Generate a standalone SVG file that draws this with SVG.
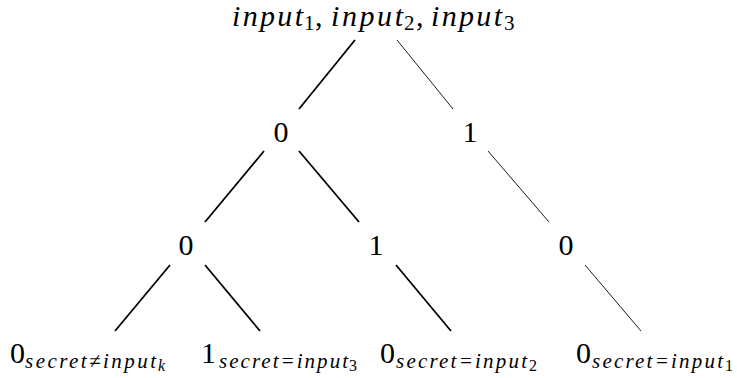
<svg xmlns="http://www.w3.org/2000/svg" width="737" height="378" viewBox="0 0 737 378">
<style>
.t{font-family:"Liberation Serif","Times New Roman",serif;fill:#000}
.m{font-size:30px}
.s{font-size:21px}
.ss{font-size:16px}
.it{font-style:italic}
.thick{stroke:#000;stroke-width:1.8;fill:none}
.thin{stroke:#000;stroke-width:0.9;fill:none}
</style>
<rect width="737" height="378" fill="#fff"/>
<g id="connectors">
<line class="thick" x1="355" y1="40" x2="299" y2="109"/>
<line class="thin" x1="397" y1="40" x2="453" y2="109"/>
<line class="thick" x1="264" y1="151" x2="205" y2="222"/>
<line class="thick" x1="299" y1="151" x2="359" y2="222"/>
<line class="thin" x1="488" y1="151" x2="549" y2="222"/>
<line class="thick" x1="170" y1="265" x2="115" y2="331"/>
<line class="thick" x1="205" y1="265" x2="260" y2="331"/>
<line class="thick" x1="396" y1="265" x2="451" y2="331"/>
<line class="thin" x1="585" y1="265" x2="641" y2="331"/>
</g>
<g id="root">
<text class="t m it" x="232" y="26" textLength="71" lengthAdjust="spacing">input</text>
<text class="t s" x="304" y="30">1</text>
<text class="t m" x="315" y="26">,</text>
<text class="t m it" x="331" y="26" textLength="72" lengthAdjust="spacing">input</text>
<text class="t s" x="404" y="30">2</text>
<text class="t m" x="416" y="26">,</text>
<text class="t m it" x="431" y="26" textLength="71" lengthAdjust="spacing">input</text>
<text class="t s" x="504" y="30">3</text>
</g>
<g id="n1_0"><text class="t m" x="281" y="142" text-anchor="middle">0</text></g>
<g id="n1_1"><text class="t m" x="470" y="142" text-anchor="middle">1</text></g>
<g id="n2_0"><text class="t m" x="186" y="255" text-anchor="middle">0</text></g>
<g id="n2_1"><text class="t m" x="376" y="255" text-anchor="middle">1</text></g>
<g id="n2_2"><text class="t m" x="566" y="255" text-anchor="middle">0</text></g>
<g id="leaf1">
<text class="t m" x="10" y="363">0</text>
<text class="t s it" x="25" y="368" textLength="131" lengthAdjust="spacing">secret≠input</text>
<text class="t ss it" x="158" y="371">k</text>
</g>
<g id="leaf2">
<text class="t m" x="201" y="363">1</text>
<text class="t s it" x="219" y="368" textLength="129" lengthAdjust="spacing">secret=input</text>
<text class="t ss" x="349" y="371">3</text>
</g>
<g id="leaf3">
<text class="t m" x="380" y="363">0</text>
<text class="t s it" x="396" y="368" textLength="131" lengthAdjust="spacing">secret=input</text>
<text class="t ss" x="529" y="371">2</text>
</g>
<g id="leaf4">
<text class="t m" x="576" y="363">0</text>
<text class="t s it" x="592" y="368" textLength="131" lengthAdjust="spacing">secret=input</text>
<text class="t ss" x="725" y="371">1</text>
</g>
</svg>
